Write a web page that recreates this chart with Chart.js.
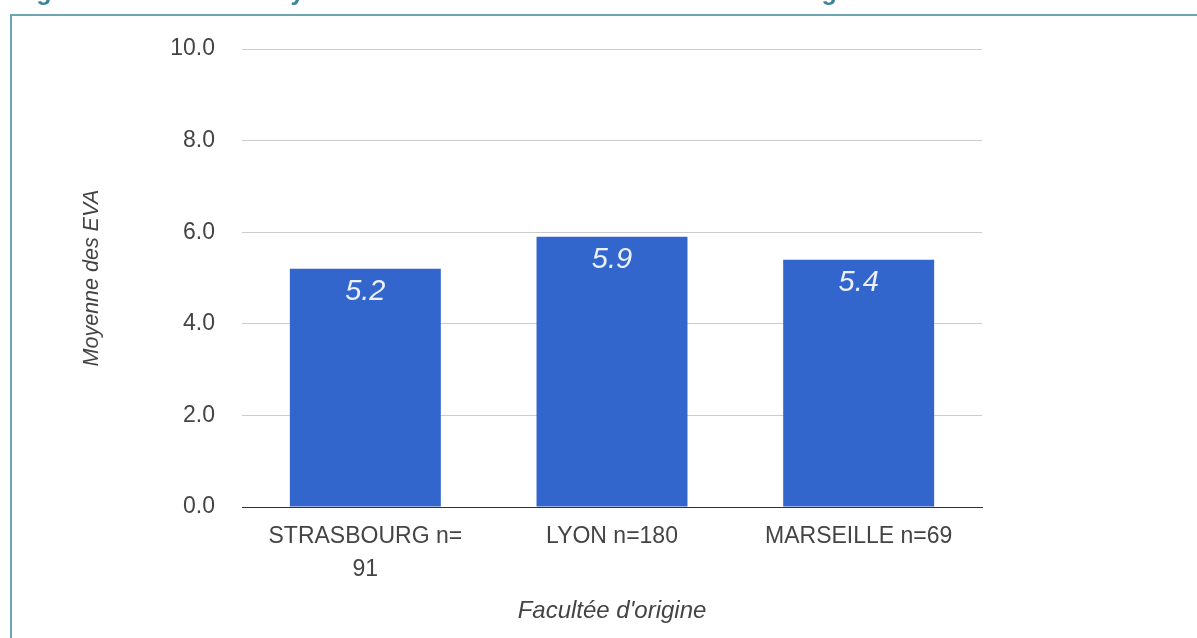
<!DOCTYPE html>
<html lang="fr">
<head>
<meta charset="utf-8">
<title>Moyenne des EVA par faculté</title>
<script src="https://cdn.jsdelivr.net/npm/chart.js@4.4.1/dist/chart.umd.min.js"></script>
<style>
  html, body { margin: 0; padding: 0; background: #fff; overflow: hidden; }
  #wrap { position: relative; width: 1197px; height: 638px; }
  #caption {
    position: absolute; left: 14px; top: -21px;
    font: bold 25px "Liberation Sans", Arial, sans-serif; line-height: 25px;
    color: #3b8397; white-space: nowrap;
  }
  .rule { position: absolute; background: #6fa4b5; }
  canvas { position: absolute; left: 0; top: 0; }
</style>
</head>
<body>
<div id="wrap">
  <canvas id="eva-chart" width="1197" height="638"></canvas>
  <div id="caption">Figure 4 : Résultat : Moyenne des EVA en fonction de la faculté d'origine</div>
  <div class="rule" style="left:10px; top:14px; width:1187px; height:2px;"></div>
  <div class="rule" style="left:10px; top:14px; width:2px; height:624px;"></div>
</div>
<script>
const faculties = [["STRASBOURG n=", "91"], "LYON n=180", "MARSEILLE n=69"];
const evaMeans = [5.2, 5.9, 5.4];
const yTicks = [0, 2, 4, 6, 8, 10];

const font = "'Liberation Sans', Arial, sans-serif";

// writes each mean inside the top of its bar
const barValues = {
  id: "barValues",
  afterDatasetsDraw(chart) {
    const ctx = chart.ctx;
    const meta = chart.getDatasetMeta(0);
    ctx.save();
    ctx.font = "italic 29px " + font;
    ctx.fillStyle = "rgba(255,255,255,0.9)";
    ctx.textAlign = "center";
    ctx.textBaseline = "middle";
    meta.data.forEach((bar, i) => {
      ctx.fillText(evaMeans[i].toFixed(1), bar.x, bar.y + 23);
    });
    ctx.restore();
  }
};

new Chart(document.getElementById("eva-chart"), {
  type: "bar",
  data: {
    labels: faculties,
    datasets: [{
      data: evaMeans,
      backgroundColor: "#3366cc",
      barPercentage: 0.612,
      categoryPercentage: 1
    }]
  },
  options: {
    responsive: false,
    animation: false,
    events: [],
    layout: { padding: { top: 49, right: 215, left: 0, bottom: 0 } },
    plugins: { legend: { display: false }, tooltip: { enabled: false } },
    scales: {
      x: {
        grid: { display: false },
        border: { display: true, color: "#333", width: 1 },
        ticks: {
          color: "#444",
          font: { family: font, size: 23, lineHeight: 1.43 },
          padding: 5,
          maxRotation: 0,
          autoSkip: false
        },
        title: {
          display: true,
          text: "Facultée d'origine",
          color: "#444",
          font: { family: font, size: 24, style: "italic" },
          padding: { top: 0, bottom: 12 }
        },
        afterFit(scale) { scale.height = 131; }
      },
      y: {
        min: 0,
        max: 10,
        afterBuildTicks(scale) { scale.ticks = yTicks.map(v => ({ value: v })); },
        grid: {
          drawTicks: false,
          color: ctx => (ctx.tick && ctx.tick.value === 0 ? "#333" : "#cccccc"),
          lineWidth: 1
        },
        border: { display: false },
        ticks: {
          color: "#444",
          font: { family: font, size: 23 },
          padding: 27,
          callback: v => Number(v).toFixed(1)
        },
        title: {
          display: true,
          text: "Moyenne des EVA",
          color: "#444",
          font: { family: font, size: 21.5, style: "italic" },
          padding: { top: 79, bottom: 0 }
        },
        afterFit(scale) { scale.width = 242; }
      }
    }
  },
  plugins: [barValues]
});
</script>
</body>
</html>
